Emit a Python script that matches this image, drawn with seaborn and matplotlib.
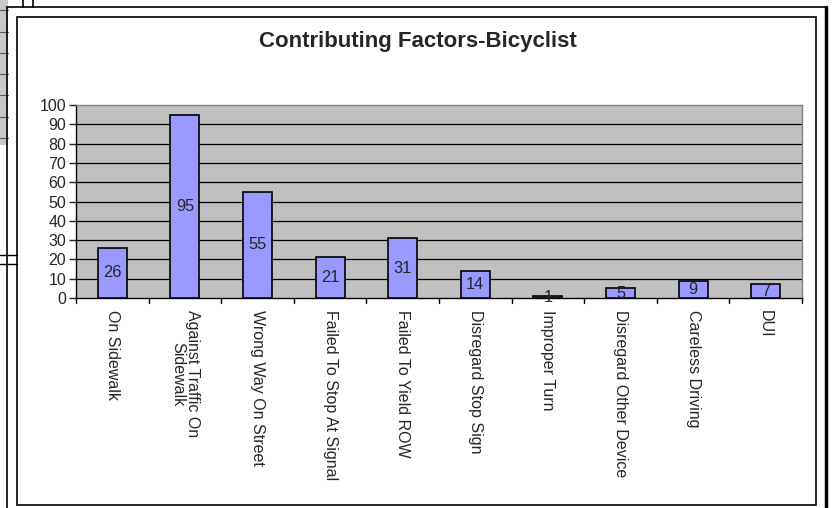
import matplotlib
matplotlib.use("Agg")
import matplotlib.pyplot as plt
from matplotlib.patches import Rectangle
from matplotlib.lines import Line2D
import seaborn as sns
import pandas as pd

categories = ["On Sidewalk", "Against Traffic On\nSidewalk", "Wrong Way On Street",
              "Failed To Stop At Signal", "Failed To Yield ROW", "Disregard Stop Sign",
              "Improper Turn", "Disregard Other Device", "Careless Driving", "DUI"]
values = [26, 95, 55, 21, 31, 14, 1, 5, 9, 7]
yticks = [0, 10, 20, 30, 40, 50, 60, 70, 80, 90, 100]
title = "Contributing Factors-Bicyclist"

sns.set_style("white")
plt.rcParams['font.family'] = ['Liberation Sans', 'DejaVu Sans']

W, H = 832, 508
fig = plt.figure(figsize=(W / 100, H / 100), dpi=100)
fig.patch.set_facecolor("white")

def fx(x): return x / W
def fy(y): return 1 - y / H

# spreadsheet fragments / frame
fig.add_artist(Rectangle((0, fy(145)), fx(8), 145 / H, transform=fig.transFigure,
                         facecolor="#C8C8C8", edgecolor="none"))
for yy in [10, 32, 53, 74, 95, 117, 138]:
    fig.add_artist(Line2D([0, fx(8)], [fy(yy), fy(yy)], transform=fig.transFigure, color="#555555", lw=0.8))
fig.add_artist(Line2D([fx(7), fx(7)], [0, fy(7)], transform=fig.transFigure, color="black", lw=1.2))
fig.add_artist(Line2D([fx(7), fx(826)], [fy(7), fy(7)], transform=fig.transFigure, color="black", lw=1.2))
fig.add_artist(Line2D([fx(826), fx(826)], [0, fy(7)], transform=fig.transFigure, color="black", lw=2.5))
for xx in [23, 33]:
    fig.add_artist(Line2D([fx(xx), fx(xx)], [fy(7), 1], transform=fig.transFigure, color="black", lw=1.2))
for yy in [255, 264]:
    fig.add_artist(Line2D([0, fx(17)], [fy(yy), fy(yy)], transform=fig.transFigure, color="black", lw=1.0))
fig.add_artist(Rectangle((fx(17), fy(505)), fx(816) - fx(17), fy(17) - fy(505),
                         transform=fig.transFigure, facecolor="none", edgecolor="black", lw=1.2))

ax = fig.add_axes([fx(76), fy(298), fx(802) - fx(76), fy(105) - fy(298)])
df = pd.DataFrame({"cat": categories, "val": values})
sns.barplot(data=df, x="cat", y="val", color="#9999FF", saturation=1, edgecolor="black",
            linewidth=1.2, width=0.4, ax=ax, zorder=3)
ax.set_facecolor("#C0C0C0")
ax.set_ylim(0, 100)
ax.set_xlim(-0.5, len(categories) - 0.5)
ax.set_yticks(yticks)
ax.set_yticklabels([str(t) for t in yticks], fontsize=11.5)
for t in yticks[1:-1]:
    ax.axhline(t, color="black", lw=0.9, zorder=1)
ax.set_xticks(range(len(categories)))
ax.set_xticklabels(categories, rotation=-90, fontsize=11.5, va="top", ha="center",
                   rotation_mode="default", linespacing=1.0, multialignment="center")
ax.tick_params(axis="x", length=0, pad=9)
ax.tick_params(axis="y", length=5, width=1, direction="out", left=True, pad=2)
for b in [i + 0.5 for i in range(-1, len(categories))]:
    ax.plot([b, b], [0, -0.028], transform=ax.get_xaxis_transform(), color="black", lw=1, clip_on=False)
for s in ["top", "right"]:
    ax.spines[s].set_color("#808080")
    ax.spines[s].set_linewidth(1)
for s in ["left", "bottom"]:
    ax.spines[s].set_color("black")
    ax.spines[s].set_linewidth(1)
ax.set_xlabel("")
ax.set_ylabel("")
ax.bar_label(ax.containers[0], labels=[str(v) for v in values], label_type="center",
             fontsize=11.8, zorder=5)

fig.text(fx(418), fy(42), title, ha="center", va="center", fontsize=16, fontweight="bold")

fig.savefig("out.png", dpi=100, facecolor="white")
